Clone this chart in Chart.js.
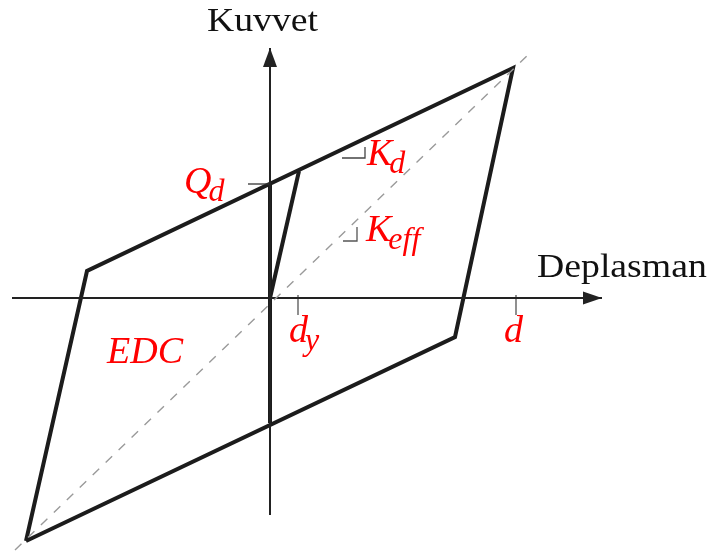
<!DOCTYPE html>
<html>
<head>
<meta charset="utf-8">
<title>Kuvvet - Deplasman</title>
<script src="https://cdn.jsdelivr.net/npm/chart.js"></script>
<style>
  html, body { margin: 0; padding: 0; background: #fff; }
  #wrap { width: 716px; height: 553px; }
</style>
</head>
<body>
<div id="wrap"><canvas id="loopChart" width="716" height="553"></canvas></div>
<script>
// hysteresis loop corners (displacement, force)
var loopX = [-244, -183, 243, 185, -244];
var loopY = [-243, 27, 230, -39, -243];
// first loading branch: origin -> yield point
var initX = [0, 29];
var initY = [0, 127];
// drop along zero displacement, Qd down to the lower branch
var dropX = [0, 0];
var dropY = [114, -125];
// effective stiffness line (dashed)
var keffX = [-255, 261];
var keffY = [-252, 246];
// axes extents
var axisX = [-258, 332];
var axisY = [-217, 250];
// small tick marks
var qdTickX = [-22, 0],   qdTickY = [114, 114];
var dyTickX = [28, 28],   dyTickY = [3, -17];
var dTickX = [246, 246],  dTickY = [3, -17];
// stiffness corner marks
var kdMarkX = [72, 95, 95],   kdMarkY = [140, 140, 151];
var keffMarkX = [73, 87, 87], keffMarkY = [57, 57, 71];

// labels: main text, subscript, anchor in data units
var labels = [
    { t: 'Q', s: 'd', x: -86, y: 105 },
    { t: 'K', s: 'd', x: 97, y: 133 },
    { t: 'K', s: 'eff', x: 96, y: 57 },
    { t: 'd', s: 'y', x: 19, y: -44 },
    { t: 'd', s: '', x: 234, y: -44 },
    { t: 'EDC', s: '', x: -163, y: -65 }
];
var axisTitles = [
    { t: 'Kuvvet', x: -63, y: 267 },
    { t: 'Deplasman', x: 267, y: 21 }
];

function pts(xs, ys) {
    return xs.map(function(v, i) { return { x: v, y: ys[i] }; });
}

function seg(xs, ys, color, width, dash) {
    return {
        data: pts(xs, ys),
        showLine: true,
        borderColor: color,
        borderWidth: width,
        borderDash: dash || [],
        pointRadius: 0,
        fill: false,
        tension: 0,
        clip: false,
        borderJoinStyle: 'miter',
        borderCapStyle: 'butt'
    };
}

var arrowPlugin = {
    id: 'arrows',
    afterDatasetsDraw: function(chart) {
        var ctx = chart.ctx;
        var sx = chart.scales.x, sy = chart.scales.y;
        var ox = sx.getPixelForValue(0), oy = sy.getPixelForValue(0);
        var tx = sx.getPixelForValue(axisX[1]);
        var ty = sy.getPixelForValue(axisY[1]);
        ctx.save();
        ctx.fillStyle = '#222';
        // x arrow
        ctx.beginPath();
        ctx.moveTo(tx, oy);
        ctx.lineTo(tx - 19, oy - 6.5);
        ctx.lineTo(tx - 19, oy + 6.5);
        ctx.closePath();
        ctx.fill();
        // y arrow
        ctx.beginPath();
        ctx.moveTo(ox, ty);
        ctx.lineTo(ox - 7, ty + 19);
        ctx.lineTo(ox + 7, ty + 19);
        ctx.closePath();
        ctx.fill();

        // red symbols
        ctx.textBaseline = 'alphabetic';
        ctx.textAlign = 'left';
        labels.forEach(function(l) {
            var px = sx.getPixelForValue(l.x), py = sy.getPixelForValue(l.y);
            ctx.fillStyle = '#ff0000';
            ctx.font = 'italic 38px "Liberation Serif", "DejaVu Serif", serif';
            ctx.fillText(l.t, px, py);
            if (l.s) {
                var w = ctx.measureText(l.t).width;
                ctx.font = 'italic 32px "Liberation Serif", "DejaVu Serif", serif';
                ctx.fillText(l.s, px + w - 3, py + 8);
            }
        });
        // axis titles
        ctx.fillStyle = '#111';
        ctx.font = '34px "Liberation Serif", "DejaVu Serif", serif';
        axisTitles.forEach(function(a) {
            var px = sx.getPixelForValue(a.x), py = sy.getPixelForValue(a.y);
            ctx.save();
            ctx.translate(px, py);
            ctx.scale(1.11, 1);
            ctx.fillText(a.t, 0, 0);
            ctx.restore();
        });
        ctx.restore();
    }
};

var ctx = document.getElementById('loopChart').getContext('2d');
var loopChart = new Chart(ctx, {
    type: 'scatter',
    data: {
        datasets: [
            seg(keffX, keffY, '#9a9a9a', 1.4, [9, 9]),
            seg(axisX, [0, 0], '#222', 2),
            seg([0, 0], axisY, '#222', 2),
            seg(qdTickX, qdTickY, '#333', 1.3),
            seg(dyTickX, dyTickY, '#555', 1.3),
            seg(dTickX, dTickY, '#555', 1.3),
            seg(kdMarkX, kdMarkY, '#444', 1.3),
            seg(keffMarkX, keffMarkY, '#555', 1.3),
            seg(loopX, loopY, '#1c1c1c', 4),
            seg(initX, initY, '#1c1c1c', 4),
            seg(dropX, dropY, '#1c1c1c', 4)
        ]
    },
    options: {
        responsive: false,
        animation: false,
        events: [],
        layout: { padding: 0 },
        plugins: { legend: { display: false }, tooltip: { enabled: false } },
        scales: {
            x: { type: 'linear', min: -270, max: 446, display: false },
            y: { type: 'linear', min: -255, max: 298, display: false }
        }
    },
    plugins: [arrowPlugin]
});
</script>
</body>
</html>
